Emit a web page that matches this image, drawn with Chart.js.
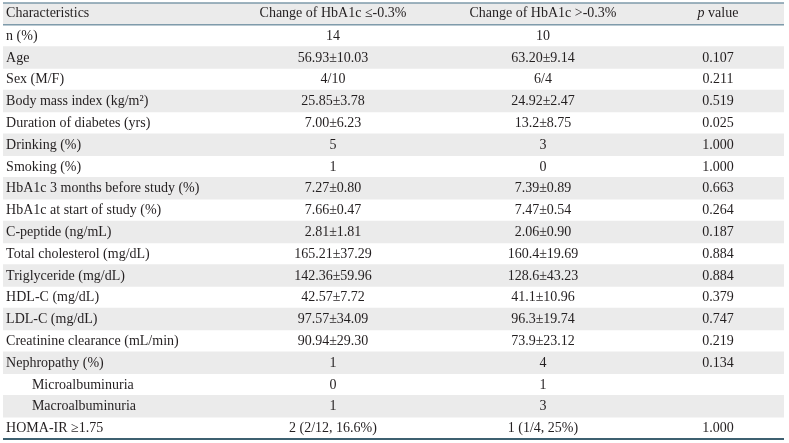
<!DOCTYPE html>
<html>
<head>
<meta charset="utf-8">
<script src="https://cdn.jsdelivr.net/npm/chart.js@4"></script>
<style>
  html, body { margin: 0; padding: 0; background: #fff; }
  #wrap { width: 789px; height: 443px; position: relative; }
</style>
</head>
<body>
<div id="wrap"><canvas id="tabel"></canvas></div>
<script>
// tabel met baseline kenmerken per HbA1c groep, getekend als chart
const headers = ['Characteristics', 'Change of HbA1c \u2264-0.3%', 'Change of HbA1c >-0.3%', 'p value'];

const characteristics = [
  'n (%)',
  'Age',
  'Sex (M/F)',
  'Body mass index (kg/m\u00b2)',
  'Duration of diabetes (yrs)',
  'Drinking (%)',
  'Smoking (%)',
  'HbA1c 3 months before study (%)',
  'HbA1c at start of study (%)',
  'C-peptide (ng/mL)',
  'Total cholesterol (mg/dL)',
  'Triglyceride (mg/dL)',
  'HDL-C (mg/dL)',
  'LDL-C (mg/dL)',
  'Creatinine clearance (mL/min)',
  'Nephropathy (%)',
  'Microalbuminuria',
  'Macroalbuminuria',
  'HOMA-IR \u22651.75'
];

const lowGroup = [
  '14', '56.93\u00b110.03', '4/10', '25.85\u00b13.78', '7.00\u00b16.23', '5', '1',
  '7.27\u00b10.80', '7.66\u00b10.47', '2.81\u00b11.81', '165.21\u00b137.29', '142.36\u00b159.96',
  '42.57\u00b17.72', '97.57\u00b134.09', '90.94\u00b129.30', '1', '0', '1', '2 (2/12, 16.6%)'
];

const highGroup = [
  '10', '63.20\u00b19.14', '6/4', '24.92\u00b12.47', '13.2\u00b18.75', '3', '0',
  '7.39\u00b10.89', '7.47\u00b10.54', '2.06\u00b10.90', '160.4\u00b119.69', '128.6\u00b143.23',
  '41.1\u00b110.96', '96.3\u00b119.74', '73.9\u00b123.12', '4', '1', '3', '1 (1/4, 25%)'
];

const pValues = [
  '', '0.107', '0.211', '0.519', '0.025', '1.000', '1.000', '0.663', '0.264', '0.187',
  '0.884', '0.884', '0.379', '0.747', '0.219', '0.134', '', '', '1.000'
];

// sub-rijen die ingesprongen worden
const subRows = ['Microalbuminuria', 'Macroalbuminuria'];

const rowLabels = [headers[0]].concat(characteristics);
const columns = [
  [headers[0]].concat(characteristics),
  [headers[1]].concat(lowGroup),
  [headers[2]].concat(highGroup),
  [headers[3]].concat(pValues)
];

// kolomposities op de x-as (0..1)
const colPos = [0.004, 0.4225, 0.6914, 0.9155];
const indentPos = 0.037;
const font = '14px "Liberation Serif", "Times New Roman", serif';
const italicFont = 'italic 14px "Liberation Serif", "Times New Roman", serif';

const tableText = {
  id: 'tableText',
  afterDatasetsDraw(chart) {
    const {ctx, chartArea, scales: {x, y}} = chart;
    ctx.save();
    ctx.fillStyle = '#231f20';
    ctx.textBaseline = 'middle';
    ctx.font = font;

    rowLabels.forEach((label, i) => {
      const py = y.getPixelForValue(i) + (i === 0 ? -0.5 : 0.5);
      columns.forEach((col, c) => {
        const txt = col[i];
        if (!txt) return;
        if (c === 0) {
          ctx.textAlign = 'left';
          const pos = subRows.includes(txt) ? indentPos : colPos[0];
          ctx.fillText(txt, x.getPixelForValue(pos), py);
        } else if (i === 0 && c === 3) {
          // italic p
          ctx.textAlign = 'left';
          ctx.font = italicFont;
          const w1 = ctx.measureText('p').width;
          ctx.font = font;
          const w2 = ctx.measureText(' value').width;
          const start = x.getPixelForValue(colPos[3]) - (w1 + w2) / 2;
          ctx.font = italicFont;
          ctx.fillText('p', start, py);
          ctx.font = font;
          ctx.fillText(' value', start + w1, py);
        } else {
          ctx.textAlign = 'center';
          ctx.fillText(txt, x.getPixelForValue(colPos[c]), py);
        }
      });
    });

    // lijnen boven, onder header en onderaan
    const headerBottom = (y.getPixelForValue(0) + y.getPixelForValue(1)) / 2;
    ctx.lineWidth = 1.5;
    ctx.strokeStyle = '#7f9bab';
    ctx.beginPath();
    ctx.moveTo(chartArea.left, chartArea.top);
    ctx.lineTo(chartArea.right, chartArea.top);
    ctx.moveTo(chartArea.left, headerBottom);
    ctx.lineTo(chartArea.right, headerBottom);
    ctx.stroke();
    ctx.lineWidth = 2;
    ctx.strokeStyle = '#3d6070';
    ctx.beginPath();
    ctx.moveTo(chartArea.left, chartArea.bottom);
    ctx.lineTo(chartArea.right, chartArea.bottom);
    ctx.stroke();
    ctx.restore();
  }
};

// grijze banen: header en elke tweede rij
const shading = rowLabels.map((r, i) => (i % 2 === 0 ? [0, 1] : null));

const data = {
  labels: rowLabels,
  datasets: [{
    label: 'shading',
    data: shading,
    backgroundColor: '#ebebeb',
    borderWidth: 0,
    barPercentage: 1,
    categoryPercentage: 1
  }]
};

const config = {
  type: 'bar',
  data: data,
  options: {
    indexAxis: 'y',
    responsive: true,
    maintainAspectRatio: false,
    animation: false,
    layout: { padding: { left: 3, right: 5, top: 3, bottom: 4 } },
    plugins: {
      legend: { display: false },
      tooltip: { enabled: false }
    },
    scales: {
      x: { type: 'linear', min: 0, max: 1, display: false },
      y: { type: 'category', display: false, offset: true, grid: { display: false } }
    }
  },
  plugins: [tableText]
};

const myChart = new Chart(document.getElementById('tabel'), config);
</script>
</body>
</html>
